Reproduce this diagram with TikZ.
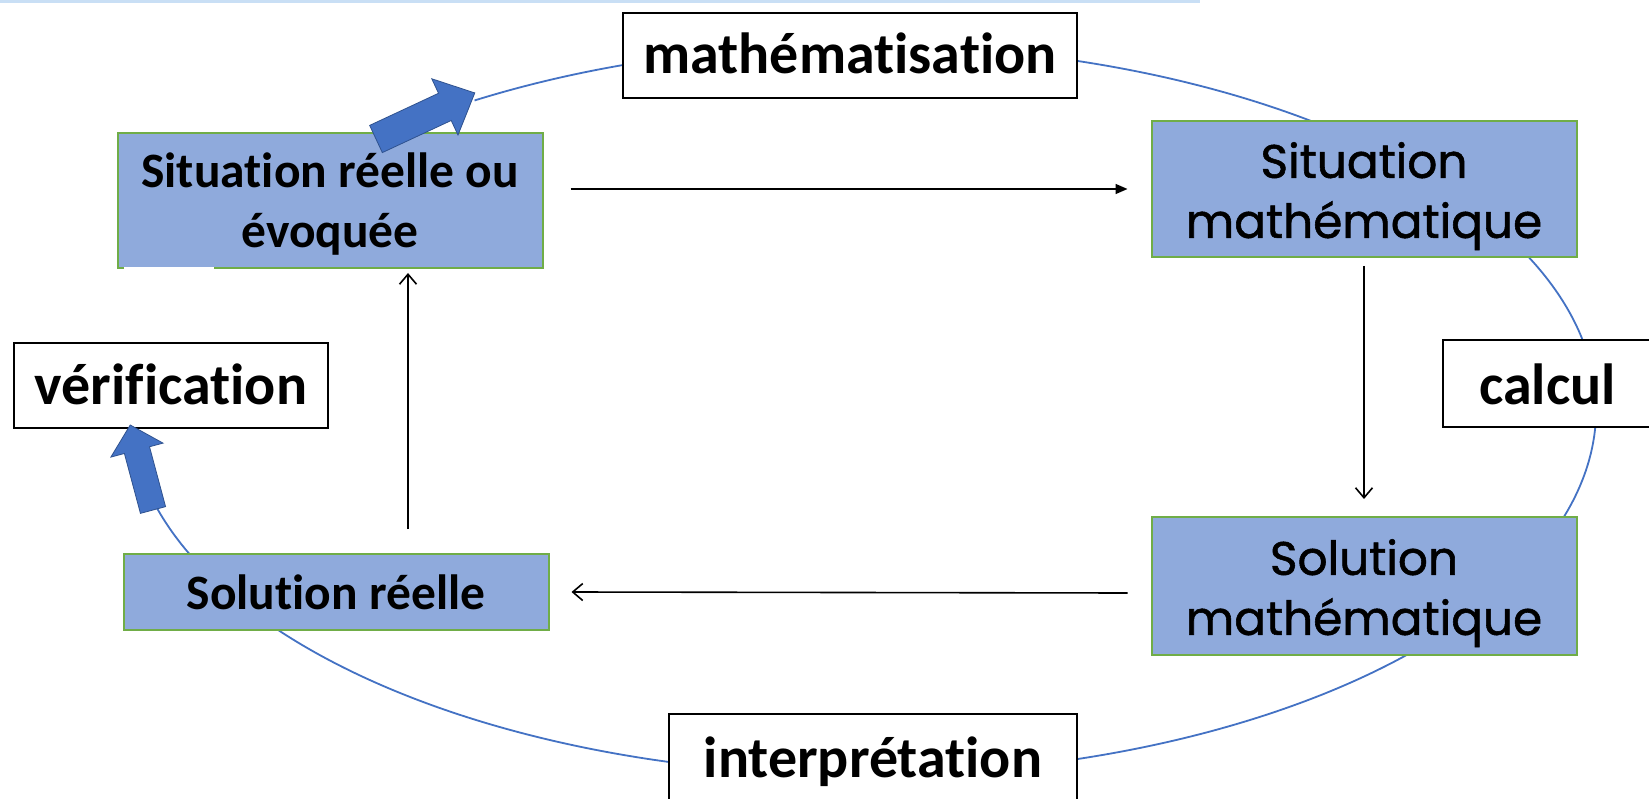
\documentclass[tikz,border=0pt]{standalone}
\usepackage{fontspec}
\setmainfont{Carlito}[Ligatures=NoCommon]
\newfontfamily\gothic{Poppins}[BoldFont=Poppins, BoldFeatures={FakeBold=1.2}]
\usetikzlibrary{arrows.meta}
\definecolor{boxfill}{HTML}{8FAADC}
\definecolor{boxline}{HTML}{70AD47}
\definecolor{cyc}{HTML}{4472C4}
\definecolor{cycdark}{HTML}{2F528F}
\definecolor{topline}{HTML}{C9DFF5}
\begin{document}
\begin{tikzpicture}[x=1pt,y=-1pt,
  bluebox/.style={draw=boxline, line width=2pt, fill=boxfill, inner sep=0pt, align=center,
    minimum width=425pt},
  calibox/.style={bluebox, font=\bfseries\fontsize{49.5}{60}\selectfont},
  gothbox/.style={bluebox, font=\gothic\bfseries\fontsize{47}{60}\selectfont},
  labelbox/.style={draw=black, line width=2pt, fill=white, inner sep=0pt, anchor=base,
    font=\bfseries\fontsize{58}{68}\selectfont},
  cycle line/.style={draw=cyc, line width=1.8pt},
  fatarrow/.style={fill=cyc, draw=cycdark, line width=0.8pt, line join=miter},
  flow/.style={draw=black, line width=1.6pt},
  openhead/.style={flow, -{Straight Barb[length=10pt,width=17pt,line width=1.6pt]}},
  filledhead/.style={flow, -{Stealth[length=12pt,width=10pt,inset=0pt]}}
]
\useasboundingbox (0,0) rectangle (1649,799);
\fill[white] (0,0) rectangle (1649,799);
\draw[topline, line width=3pt] (0,1.5) -- (1200,1.5);

% cycle (ellipse arc)
\coordinate (ec) at (863,410);
\draw[cycle line] (ec) ++(122:733pt and 365pt)
  arc[start angle=122, end angle=-165, x radius=733pt, y radius=365pt];

% label boxes
\node[labelbox, minimum width=454pt, text height=61pt, text depth=24pt] (mathz) at (850,74) {mathématisation};
\node[labelbox, minimum width=314pt, text height=61pt, text depth=24pt] (verif) at (171,404) {vérification};
\node[labelbox, minimum width=209pt, text height=64pt, text depth=23pt] (calc) at (1547.5,404) {calcul};
\node[labelbox, minimum width=408pt, text height=63pt, text depth=70pt] (interp) at (873,777) {interprétation};

% blue boxes
\node[calibox, minimum height=135pt] (sitr) at (330,200.5) {\rule{0pt}{42pt}Situation réelle ou\\évoquée};
\node[gothbox, minimum height=136pt] (sitm) at (1364,189) {\rule{0pt}{50pt}Situation\\mathématique};
\node[gothbox, minimum height=138pt] (solm) at (1364,586) {\rule{0pt}{50pt}Solution\\mathématique};
\node[calibox, minimum height=76pt] (solr) at (336,592) {Solution réelle};
\draw[white, line width=3pt] (124,269) -- (214,269);

% fat arrows
\fill[fatarrow, shift={(376,139)}, rotate=25]
  (0,-15) -- (76,-15) -- (76,-31) -- (109,0) -- (76,31) -- (76,15) -- (0,15) -- cycle;
\fill[fatarrow, shift={(153,510)}, rotate=105]
  (0,-13) -- (62,-13) -- (62,-27) -- (88,0) -- (62,27) -- (62,13) -- (0,13) -- cycle;

% flow arrows
\draw[filledhead] ([shift={(27,-11.5)}]sitr.east) -- ([shift={(-23,0)}]sitm.west);
\draw[openhead] ([shift={(0,8)}]sitm.south) -- ([shift={(0,-17)}]solm.north);
\draw[openhead] ([shift={(-23,7)}]solm.west) -- ([shift={(22,0)}]solr.east);
\draw[openhead] ([shift={(72,-24)}]solr.north) -- ([shift={(78,4)}]sitr.south);
\end{tikzpicture}
\end{document}
